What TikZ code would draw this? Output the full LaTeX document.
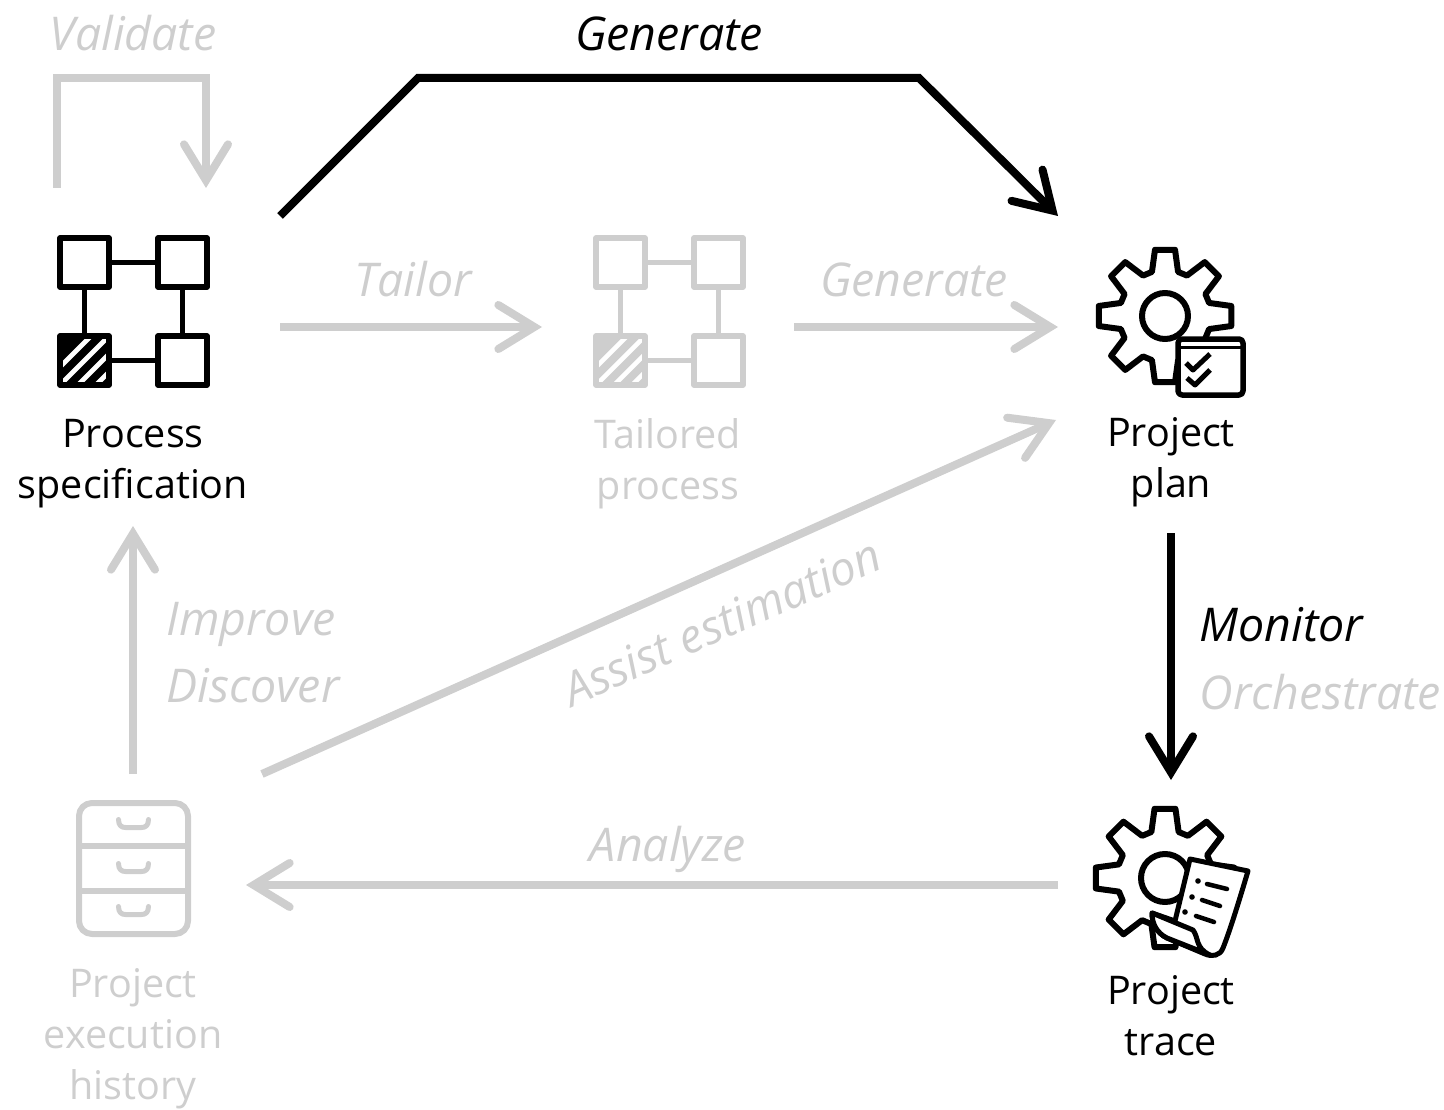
\documentclass[tikz,border=0pt]{standalone}
\usepackage{fontspec}
\setmainfont{Open Sans}
\usetikzlibrary{arrows.meta}
\definecolor{fadegray}{HTML}{CECECE}
\newcommand{\gearpath}[3]{%
  (#1-8.6:#2) \foreach \a in {0,45,...,315} {
    -- (\a-8.6:#2) -- (\a+8.6:#2) -- (\a+16.5:#3) -- (\a+28.5:#3)
  } -- cycle}
\tikzset{
  iconline/.style={line width=5.5pt, line join=round},
  iconbox/.style={minimum height=222pt, inner sep=0pt, outer sep=0pt},
  itemlabel/.style={align=center, font=\fontsize{39.5}{51}\selectfont},
  actlabel/.style={font=\fontsize{46.5}{50}\selectfont\itshape},
  conn/.style={line width=8pt, fadegray, -{Straight Barb[length=36pt,width=44pt,line width=8pt,line cap=round]}},
  connon/.style={conn, black},
  pics/procicon/.style={code={
    \foreach \x/\y in {-73.5/-73.5,24.5/-73.5,24.5/24.5}
      \draw[iconline] (\x,\y) rectangle ++(49,49);
    \begin{scope}
      \clip (-73.5,24.5) rectangle ++(49,49);
      \fill (-73.5,24.5) rectangle ++(49,49);
      \foreach \s in {-1,0,...,4}
        \draw[white, line width=4.6pt] (-73.5+\s*18,73.5) -- ++(60,-60);
    \end{scope}
    \draw[iconline] (-73.5,24.5) rectangle ++(49,49);
    \draw[iconline, line width=5pt] (-24.5,-49) -- (24.5,-49) (-24.5,49) -- (24.5,49)
      (-49,-24.5) -- (-49,24.5) (49,-24.5) -- (49,24.5);
  }},
  pics/planicon/.style={code={
    \draw[iconline, line width=6pt] \gearpath{0}{67}{46};
    \draw[iconline, line width=6pt] (0,0) circle (23);
    \draw[iconline, fill=white, rounded corners=4pt] (13,23) rectangle (78,79);
    \draw[line width=3pt] (13,31) -- (78,31);
    \draw[iconline, line width=5pt] (21,47) -- (28,54) -- (45,38);
    \draw[iconline, line width=5pt] (22,62) -- (30,69) -- (45,54);
  }},
  pics/traceicon/.style={code={
    \draw[iconline, line width=6pt] \gearpath{0}{70}{48};
    \draw[iconline, line width=6pt] (0,0) circle (24);
    \draw[iconline, fill=white, line width=5pt] (25,-19) -- (83,-7)
      .. controls (72,30) and (64,55) .. (58,70)
      .. controls (55,78) and (47,79) .. (40,76)
      -- (2,60) .. controls (-8,55) and (-13,46) .. (-13,35)
      -- (10,43) -- (25,-19) -- cycle;
    \draw[iconline, fill=white, line width=5pt] (-13,35) -- (28,52)
      .. controls (34,60) and (30,70) .. (45,77)
      -- (2,60) .. controls (-8,55) and (-13,46) .. (-13,35) -- cycle;
    \fill (33,3) circle (2.8) (27,19) circle (2.8) (20,34) circle (2.8);
    \draw[iconline, line width=4.5pt, line cap=round] (42,6) -- (62,11) (37,22) -- (55,28) (31,38) -- (49,44);
  }},
  pics/cabineticon/.style={code={
    \draw[iconline, line width=6pt, rounded corners=13pt] (-54.5,-65.5) rectangle (54.5,65.5);
    \draw[iconline, line width=6pt] (-54.5,-22.5) -- (54.5,-22.5) (-54.5,22.5) -- (54.5,22.5);
    \foreach \y in {-44,0,43}
      \draw[iconline, line width=5pt, line cap=round] (-15,\y-5)
        .. controls (-15,\y+1) and (-12,\y+3) .. (-8,\y+3) -- (8,\y+3)
        .. controls (12,\y+3) and (15,\y+1) .. (15,\y-5);
  }}
}
\begin{document}
\begin{tikzpicture}[x=1pt,y=-1pt]
\useasboundingbox (0,0) rectangle (1444,1110);

% Process specification
\node[iconbox, minimum width=294pt] (spec) at (133,327) {};
\pic[black] at (133.5,311.5) {procicon};
\node[itemlabel] (specLabel) at (133,464) {Process\\specification};

% Tailored process
\node[iconbox, minimum width=252pt] (tailored) at (668,327) {};
\pic[fadegray] at (669.5,311.5) {procicon};
\node[itemlabel, fadegray] (tailoredLabel) at (668,464) {Tailored\\process};

% Project plan
\node[iconbox, minimum width=224pt] (plan) at (1170,327) {};
\pic[black] at (1165,316) {planicon};
\node[itemlabel] (planLabel) at (1171,462) {Project\\plan};

% Project trace
\node[iconbox, minimum width=224pt] (trace) at (1170,885) {};
\pic[black] at (1165,878) {traceicon};
\node[itemlabel] (traceLabel) at (1171,1016) {Project\\trace};

% Project execution history
\node[iconbox, minimum width=226pt] (history) at (133,885) {};
\pic[fadegray] at (133.5,868.5) {cabineticon};
\node[itemlabel, fadegray] (historyLabel) at (133,1039) {Project\\execution\\history};

% Free ends of the connectors
\coordinate (validateFrom) at (57,188);
\coordinate (validateTo) at (206,188);
\coordinate (improveTo) at (133,526);
\coordinate (assistFrom) at (262,774);
\coordinate (assistTo) at (1056,420);
\coordinate (monitorFrom) at (1171,533);
\coordinate (monitorTo) at (1171,780);

% Light connectors
\draw[conn] (validateFrom) |- (130,78) -| (validateTo);
\draw[conn] (spec) -- (tailored);
\draw[conn] (tailored) -- (plan);
\draw[conn] (trace) -- (history);
\draw[conn] (history.north) -- (improveTo);
\draw[conn] (assistFrom) -- (assistTo);

% Active connectors
\draw[connon] (spec.north east) -- ++(138,-138) -- ++(501,0) -- (plan.north west);
\draw[connon] (monitorFrom) -- (monitorTo);

% Connector labels
\node[actlabel, fadegray] (validateLabel) at (133,33) {Validate};
\node[actlabel] (generateTop) at (669,34) {Generate};
\node[actlabel, fadegray] (tailorLabel) at (413,279) {Tailor};
\node[actlabel, fadegray] (generateLabel) at (914,280) {Generate};
\node[actlabel, fadegray, anchor=west] (improveLabel) at (163,624) {Improve};
\node[actlabel, fadegray, anchor=west] (discoverLabel) at (163,686) {Discover};
\node[actlabel, fadegray, rotate=24] (assistLabel) at (722,622) {Assist estimation};
\node[actlabel, anchor=west] (monitorLabel) at (1196,625) {Monitor};
\node[actlabel, fadegray, anchor=west] (orchestrateLabel) at (1196,692) {Orchestrate};
\node[actlabel, fadegray] (analyzeLabel) at (668,849) {Analyze};
\end{tikzpicture}
\end{document}
